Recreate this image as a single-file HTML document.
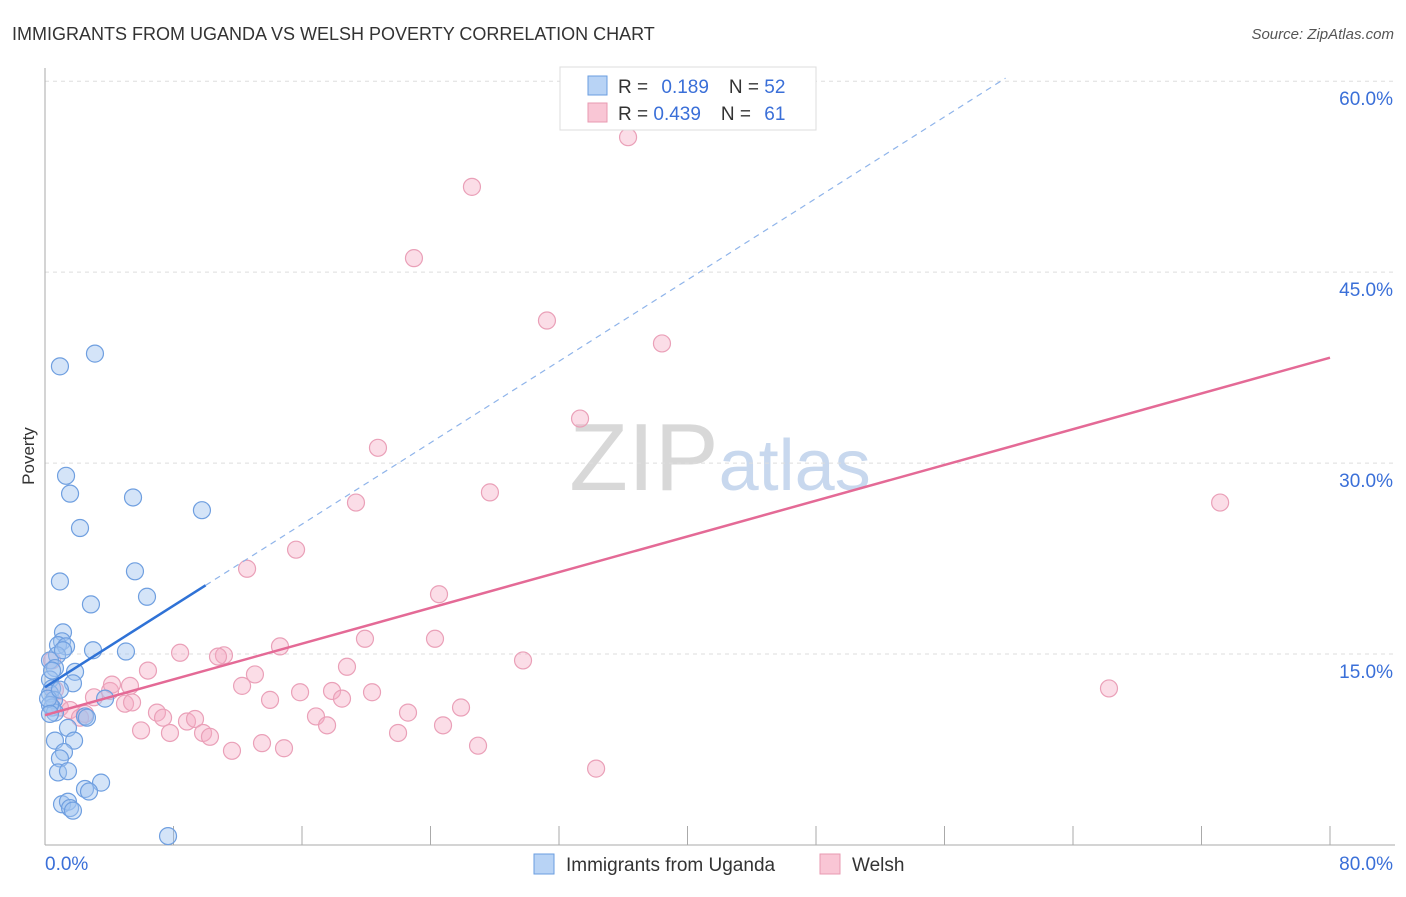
<!DOCTYPE html>
<html><head><meta charset="utf-8"><style>
body{margin:0;background:#fff;font-family:"Liberation Sans",sans-serif;}
svg text{font-family:"Liberation Sans",sans-serif;}
</style></head><body>
<svg id="chart" width="1406" height="892" xmlns="http://www.w3.org/2000/svg">
<text x="12" y="40" font-size="18" fill="#333">IMMIGRANTS FROM UGANDA VS WELSH POVERTY CORRELATION CHART</text>
<text x="1394" y="39" font-size="15" fill="#555" text-anchor="end" font-style="italic">Source: ZipAtlas.com</text>
<text x="34" y="456" font-size="17" fill="#333" text-anchor="middle" transform="rotate(-90 34 456)">Poverty</text>
<text x="720" y="490" font-size="96" fill="#ddd" text-anchor="middle" font-family="Liberation Serif"><tspan fill="#d8d8d8">ZIP</tspan><tspan fill="#c8d8ee" font-family="Liberation Sans" font-size="72">atlas</tspan></text>
<g id="grid"></g><g id="axes"></g><g id="pts"></g><g id="trends"></g>
<g>
<rect x="560" y="67" width="256" height="63" fill="#fff" stroke="#ddd"/>
<rect x="588" y="76" width="19" height="19" fill="#b8d3f5" stroke="#6a9ee0"/>
<rect x="588" y="103" width="19" height="19" fill="#f9c6d5" stroke="#e89ab1"/>
<text x="618" y="93" font-size="19" fill="#333">R = <tspan fill="#3a6fd8" dx="8">0.189</tspan><tspan dx="20" fill="#333">N = </tspan><tspan fill="#3a6fd8">52</tspan></text>
<text x="618" y="120" font-size="19" fill="#333">R = <tspan fill="#3a6fd8">0.439</tspan><tspan dx="20" fill="#333">N = </tspan><tspan fill="#3a6fd8" dx="8">61</tspan></text>
</g>
<g>
<rect x="534" y="854" width="20" height="20" fill="#b8d3f5" stroke="#6a9ee0"/>
<text x="566" y="871" font-size="19" fill="#333">Immigrants from Uganda</text>
<rect x="820" y="854" width="20" height="20" fill="#f9c6d5" stroke="#e89ab1"/>
<text x="852" y="871" font-size="19" fill="#333">Welsh</text>
</g>
</svg>
<script>
const blueX=[0.93,3.11,1.31,1.56,2.18,5.48,9.77,5.60,0.93,6.35,2.86,1.12,1.06,0.81,1.31,2.99,5.04,0.75,0.31,0.62,1.87,0.31,0.44,1.74,0.31,0.56,3.74,0.44,0.62,2.49,1.43,0.62,1.81,1.18,0.93,0.81,1.43,3.49,2.49,2.74,1.06,1.43,1.56,1.74,7.66,0.31,0.19,1.12,2.61,0.44,0.93,0.31];
const blueY=[37.6,38.6,29.0,27.6,24.9,27.3,26.3,21.5,20.7,19.5,18.9,16.7,16.0,15.7,15.6,15.3,15.2,14.9,14.5,13.9,13.6,13.0,12.3,12.7,11.9,11.4,11.5,10.8,10.4,10.1,9.2,8.2,8.2,7.3,6.8,5.7,5.8,4.9,4.4,4.2,3.2,3.4,2.9,2.7,0.7,11.0,11.5,15.3,10.0,13.7,12.2,10.3];
const pinkX=[36.30,26.58,22.97,31.25,38.41,33.31,20.73,27.70,19.36,73.16,15.63,12.58,24.53,19.92,24.28,14.63,8.41,11.14,10.77,29.76,6.41,18.80,13.07,66.24,12.27,15.88,17.87,20.36,5.29,4.05,18.49,14.01,3.05,4.17,25.90,4.98,5.42,0.93,1.56,6.97,22.60,16.87,7.35,2.49,2.18,8.84,9.34,17.56,24.78,5.98,7.78,9.84,10.27,21.98,13.51,11.64,14.88,26.96,34.31,0.62,0.44];
const pinkY=[55.6,51.7,46.1,41.2,39.4,33.5,31.2,27.7,26.9,26.9,23.2,21.7,19.7,16.2,16.2,15.6,15.1,14.9,14.8,14.5,13.7,14.0,13.4,12.3,12.5,12.0,12.1,12.0,12.5,12.1,11.5,11.4,11.6,12.6,10.8,11.1,11.2,10.8,10.6,10.4,10.4,10.1,10.0,10.3,10.0,9.7,9.9,9.4,9.4,9.0,8.8,8.8,8.5,8.8,8.0,7.4,7.6,7.8,6.0,12.2,14.5];
const yTicks=[15,30,45,60];
const xTickVals=[0,8,16,24,32,40,48,56,64,72,80];
const blueTrend=[12.4,0.8];
const pinkTrend=[10.2,0.351];
const NS="http://www.w3.org/2000/svg";
const sx=v=>45+v*1285/80, sy=v=>845-v*12.73;
function mk(t,a,p){const e=document.createElementNS(NS,t);for(const k in a)e.setAttribute(k,a[k]);p.appendChild(e);return e;}
const grid=document.getElementById('grid'),axes=document.getElementById('axes'),pts=document.getElementById('pts'),tr=document.getElementById('trends');
yTicks.forEach(v=>{
 const l=mk('line',{x1:45,x2:1395,y1:sy(v),y2:sy(v),stroke:'#ddd','stroke-dasharray':'4,4'},grid);
 
 
 const t=mk('text',{x:1393,y:sy(v)+24,'font-size':19,fill:'#3a6fd8','text-anchor':'end'},axes);
 t.textContent=v.toFixed(1)+'%';
 
 
});
const ax=mk('line',{x1:45,x2:1395,y1:845,y2:845,stroke:'#aaa'},axes);


const ay=mk('line',{x1:45,x2:45,y1:68,y2:845,stroke:'#aaa'},axes);


xTickVals.forEach(v=>{
 const l=mk('line',{x1:sx(v),x2:sx(v),y1:826,y2:845,stroke:'#aaa'},axes);
 
 
});
[[0,'0.0%','start',45],[80,'80.0%','end',1393]].forEach(([v,s,a,x])=>{
 const t=mk('text',{x:x,y:870,'font-size':19,fill:'#3a6fd8','text-anchor':a},axes);
 t.textContent=s;
 
 
});
pinkX.forEach((x,i)=>{
 const c=mk('circle',{cx:sx(x),cy:sy(pinkY[i]),r:8.5,fill:'rgba(246,170,195,0.4)',stroke:'#eaa0b8','stroke-width':1.2},pts);
 
 
});
blueX.forEach((x,i)=>{
 const c=mk('circle',{cx:sx(x),cy:sy(blueY[i]),r:8.5,fill:'rgba(160,195,240,0.45)',stroke:'#6f9fe0','stroke-width':1.2},pts);
 
 
});
const pl=mk('line',{x1:sx(0),y1:sy(pinkTrend[0]),x2:sx(80),y2:sy(pinkTrend[0]+80*pinkTrend[1]),stroke:'#e46a96','stroke-width':2.5},tr);


const bl=mk('line',{x1:sx(0),y1:sy(blueTrend[0]),x2:sx(10),y2:sy(blueTrend[0]+10*blueTrend[1]),stroke:'#2f72d6','stroke-width':2.5},tr);


const bd=mk('line',{x1:sx(10),y1:sy(blueTrend[0]+10*blueTrend[1]),x2:sx(59.8),y2:sy(blueTrend[0]+59.8*blueTrend[1]),stroke:'#8fb4ea','stroke-width':1.2,'stroke-dasharray':'6,5'},tr);


</script>
</body></html>
